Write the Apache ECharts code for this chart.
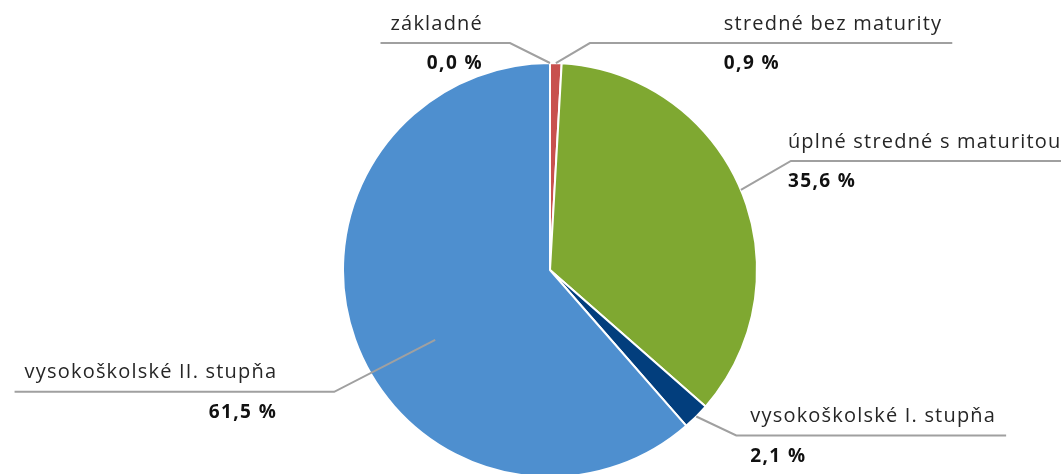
<!DOCTYPE html>
<html><head><meta charset="utf-8">
<script src="https://cdn.jsdelivr.net/npm/echarts@6/dist/echarts.min.js"></script>
<style>html,body{margin:0;padding:0;background:#fff}#c{width:1061px;height:474px}</style>
</head><body><div id="c"></div>
<script>
const categories = ['základné', 'stredné bez maturity', 'úplné stredné s maturitou', 'vysokoškolské I. stupňa', 'vysokoškolské II. stupňa'];
const shares = [0.0, 0.9, 35.6, 2.1, 61.5];
const sliceColors = ['#4E8FCF', '#C8514E', '#7FA831', '#023E7D', '#4E8FCF'];
// leader-line styling: anchor shift from slice edge, elbow offset, label side, gap from elbow
const leaderLayout = [
  {anchor: [0, 0], elbow: [-40, -20], side: 'L', gap: 27},
  {anchor: [0, 0], elbow: [34, -20], side: 'R', gap: 134},
  {anchor: [0, 0], elbow: [50, -29], side: 'R', gap: -3},
  {anchor: [0, 0], elbow: [40, 19], side: 'R', gap: 14},
  {anchor: [79, -3], elbow: [-101, 52], side: 'L', gap: 57}
];
// wider tracking like the original typeface (applied both to measuring and drawing)
(function () {
  const proto = CanvasRenderingContext2D.prototype;
  if (!('letterSpacing' in proto)) return;
  const fill = proto.fillText, measure = proto.measureText;
  const ls = function (ctx) { ctx.letterSpacing = /bold|700/.test(ctx.font) ? '1.4px' : '1.2px'; };
  proto.fillText = function () { ls(this); return fill.apply(this, arguments); };
  proto.measureText = function () { ls(this); return measure.apply(this, arguments); };
})();
const FONT = '"Open Sans", sans-serif';
const chart = echarts.init(document.getElementById('c'), null, {renderer: 'canvas'});
const W = 1061;
const data = categories.map((name, i) => ({
  name: name, value: shares[i], itemStyle: {color: sliceColors[i]}
}));
chart.setOption({
  animation: false,
  backgroundColor: '#fff',
  series: [{
    type: 'pie',
    silent: true,
    radius: 207,
    center: [550, 270],
    startAngle: 90,
    clockwise: true,
    avoidLabelOverlap: false,
    itemStyle: {borderColor: '#fff', borderWidth: 2},
    emphasis: {disabled: true},
    label: {
      show: true,
      position: 'outside',
      formatter: function (p) {
        const v = p.value.toFixed(1).replace('.', ',') + ' %';
        const side = leaderLayout[p.dataIndex].side;
        return '{n|' + p.name + '}\n{' + (side === 'L' ? 'vr' : 'vl') + '|' + v + '}';
      },
      rich: {
        n: {fontFamily: FONT, fontSize: 20, color: '#262626', lineHeight: 40, align: 'left'},
        vl: {fontFamily: FONT, fontSize: 19, fontWeight: 'bold', color: '#111', lineHeight: 40, align: 'left'},
        vr: {fontFamily: FONT, fontSize: 19, fontWeight: 'bold', color: '#111', lineHeight: 40, align: 'right'}
      }
    },
    labelLine: {show: true, showAbove: true, length: 20, length2: 20, lineStyle: {color: '#A0A0A0', width: 2}},
    labelLayout: function (p) {
      const L = leaderLayout[p.dataIndex];
      const p0 = p.labelLinePoints[0];
      const a = [p0[0] + L.anchor[0], p0[1] + L.anchor[1]];
      const e = [a[0] + L.elbow[0], a[1] + L.elbow[1]];
      const w = p.labelRect.width;
      let x, end, align;
      if (L.side === 'R') { x = e[0] + L.gap; end = Math.min(x + w + 10, W); align = 'left'; }
      else { x = e[0] - L.gap; end = x - w - 10; align = 'right'; }
      return {x: x, y: e[1] + 1, align: align, verticalAlign: 'middle', labelLinePoints: [a, e, [end, e[1]]]};
    },
    data: data
  }]
});
// keep leader lines drawn above the slices
(function () {
  const zr = chart.getZr();
  zr.storage.getDisplayList(true).forEach(function (el) {
    if (el.type === 'polyline') { el.z2 = 1000; el.markRedraw(); }
  });
  zr.refreshImmediately();
})();
</script></body></html>
